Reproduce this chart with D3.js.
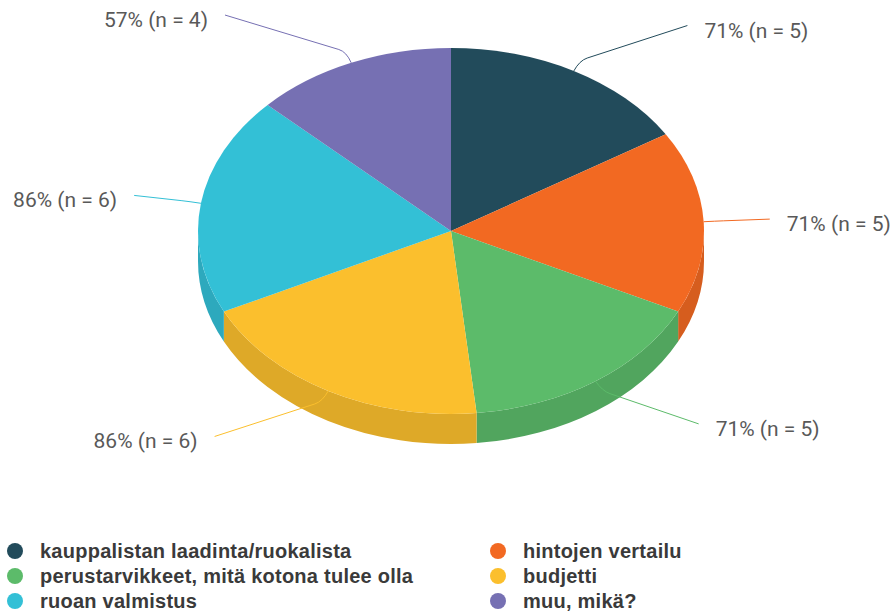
<!DOCTYPE html>
<html>
<head>
<meta charset="utf-8">
<script src="https://cdn.jsdelivr.net/npm/d3@7"></script>
<style>
  html, body { margin: 0; padding: 0; background: #fff; }
  svg { display: block; }
</style>
</head>
<body>
<svg id="chart"></svg>
<script>
const width = 892;
const height = 612;

// data
const categories = [
    'kauppalistan laadinta/ruokalista',
    'hintojen vertailu',
    'perustarvikkeet, mitä kotona tulee olla',
    'budjetti',
    'ruoan valmistus',
    'muu, mikä?'
];
const counts = [5, 5, 5, 6, 6, 4];
const percents = [71, 71, 71, 86, 86, 57];
const colors = ['#224b5b', '#f26922', '#5cbb6a', '#fbbf2d', '#33c0d6', '#7670b3'];

// pie geometry (3d look)
const cx = 451, cy = 231;
const rx = 253, ry = 183;
const depth = 30;

const svg = d3.select('#chart')
    .attr('width', width)
    .attr('height', height);

const slices = d3.pie().sort(null).value(d => d.n)(
    categories.map((c, i) => ({ name: c, n: counts[i], pct: percents[i], color: colors[i] }))
);

const pt = (a, ex = 0, ey = 0, dy = 0) => [
    cx + (rx + ex) * Math.sin(a),
    cy - (ry + ey) * Math.cos(a) + dy
];

const topPath = d => {
    const p0 = pt(d.startAngle), p1 = pt(d.endAngle);
    const large = d.endAngle - d.startAngle > Math.PI ? 1 : 0;
    return `M${cx},${cy}L${p0}A${rx},${ry} 0 ${large} 1 ${p1}Z`;
};

const sidePath = d => {
    const a0 = Math.max(d.startAngle, Math.PI / 2);
    const a1 = Math.min(d.endAngle, Math.PI * 1.5);
    if (a1 <= a0) return null;
    const p0 = pt(a0), p1 = pt(a1);
    const q0 = pt(a0, 0, 0, depth), q1 = pt(a1, 0, 0, depth);
    return `M${p0}A${rx},${ry} 0 0 1 ${p1}L${q1}A${rx},${ry} 0 0 0 ${q0}Z`;
};

const sides = svg.append('g').attr('class', 'sides');
sides.selectAll('path')
    .data(slices.filter(d => sidePath(d)))
    .enter()
    .append('path')
    .attr('d', sidePath)
    .attr('fill', d => d3.color(d.data.color).darker(0.35));

const tops = svg.append('g').attr('class', 'tops');
tops.selectAll('path')
    .data(slices)
    .enter()
    .append('path')
    .attr('d', topPath)
    .attr('fill', d => d.data.color);

// labels with soft connectors
const labelPos = d => {
    const a = (d.startAngle + d.endAngle) / 2;
    const y = cy - 235 * Math.cos(a);
    const k = Math.sqrt(Math.max(0, 1 - Math.pow((y - cy) / 306, 2)));
    const right = Math.sin(a) >= 0;
    const x = cx + (right ? 1 : -1) * 319 * k;
    return { a, x, y, right };
};

const connector = d => {
    const l = labelPos(d);
    const p0 = pt(l.a);
    const p1 = pt(l.a, 12, 12);
    const vx = l.x - p1[0], vy = l.y - p1[1];
    const len = Math.sqrt(vx * vx + vy * vy);
    const p2 = [p1[0] + vx / len * 8, p1[1] + vy / len * 8];
    return `M${p0}Q${p1} ${p2}L${l.x},${l.y}`;
};

const labels = svg.append('g').attr('class', 'labels');
labels.selectAll('path')
    .data(slices)
    .enter()
    .append('path')
    .attr('d', connector)
    .attr('fill', 'none')
    .attr('stroke', d => d.data.color)
    .attr('stroke-width', 1);

labels.selectAll('text')
    .data(slices)
    .enter()
    .append('text')
    .attr('x', d => { const l = labelPos(d); return l.right ? l.x + 17 : l.x - 17; })
    .attr('y', d => labelPos(d).y + 5)
    .attr('dominant-baseline', 'central')
    .attr('text-anchor', d => labelPos(d).right ? 'start' : 'end')
    .style('font-family', 'Roboto, sans-serif')
    .style('font-size', '21px')
    .style('fill', '#595959')
    .text(d => `${d.data.pct}% (n = ${d.data.n})`);

// legend
const legendCols = [15, 498];
const legendRows = [551, 576, 601];
const legend = svg.append('g').attr('class', 'legend')
    .selectAll('g')
    .data(categories)
    .enter()
    .append('g')
    .attr('transform', (d, i) => `translate(${legendCols[i % 2]}, ${legendRows[Math.floor(i / 2)]})`);

legend.append('circle')
    .attr('r', 8)
    .attr('fill', (d, i) => colors[i]);

legend.append('text')
    .attr('x', 25)
    .attr('dominant-baseline', 'central')
    .style('font-family', '"Liberation Sans", Arial, sans-serif')
    .style('font-size', '20px')
    .style('font-weight', 'bold')
    .style('letter-spacing', '0.25px')
    .style('fill', '#3a3a3a')
    .text(d => d);
</script>
</body>
</html>
